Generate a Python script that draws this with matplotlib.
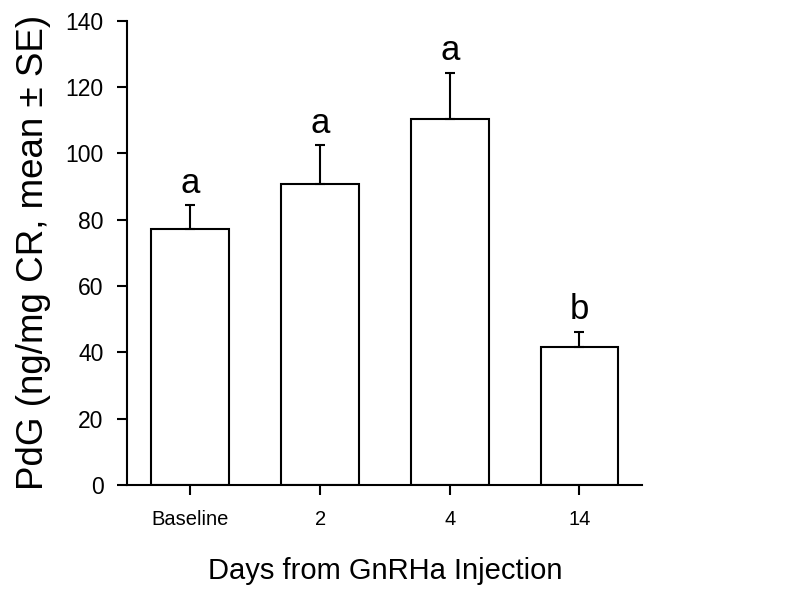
import numpy as np
import matplotlib
matplotlib.use("Agg")
import matplotlib.pyplot as plt

# 値は図から読み取った推定値
days = ["Baseline", "2", "4", "14"]
pdg_mean = [77.3, 90.8, 110.4, 41.5]
pdg_se = [7.0, 11.6, 13.9, 4.7]
groups = ["a", "a", "a", "b"]

plt.rcParams['font.family'] = ['Liberation Sans', 'DejaVu Sans']

fig = plt.figure(figsize=(8, 6.02), dpi=100)
ax = fig.add_axes([0.159, 0.1944, 0.644, 0.771])

x = np.arange(len(days))
ax.bar(x, pdg_mean, width=0.6, color='white', edgecolor='black', linewidth=1.5,
       yerr=[np.zeros(len(pdg_se)), pdg_se], capsize=3.5,
       error_kw=dict(elinewidth=1.5, capthick=1.5, ecolor='black'))

# 有意差のアルファベット
for xi, m, s, g in zip(x, pdg_mean, pdg_se, groups):
    ax.annotate(g, (xi, m + s), xytext=(0, 4), textcoords='offset points',
                ha='center', va='bottom', fontsize=25)

ax.set_xlim(-0.487, 3.485)
ax.set_ylim(0, 140)
ax.set_yticks(range(0, 141, 20))
ax.set_xticks(x)
ax.set_xticklabels(days)

for side in ['top', 'right']:
    ax.spines[side].set_visible(False)
for side in ['left', 'bottom']:
    ax.spines[side].set_linewidth(1.5)

ax.tick_params(axis='y', direction='out', length=7, width=1.5, labelsize=16.5, pad=10)
ax.tick_params(axis='x', direction='out', length=7, width=1.5, labelsize=14.5, pad=11)

ax.set_ylabel("PdG (ng/mg CR, mean ± SE)", fontsize=26.5, labelpad=10)
ax.set_xlabel("Days from GnRHa Injection", fontsize=21, labelpad=20)

fig.savefig("out.png", dpi=100)
